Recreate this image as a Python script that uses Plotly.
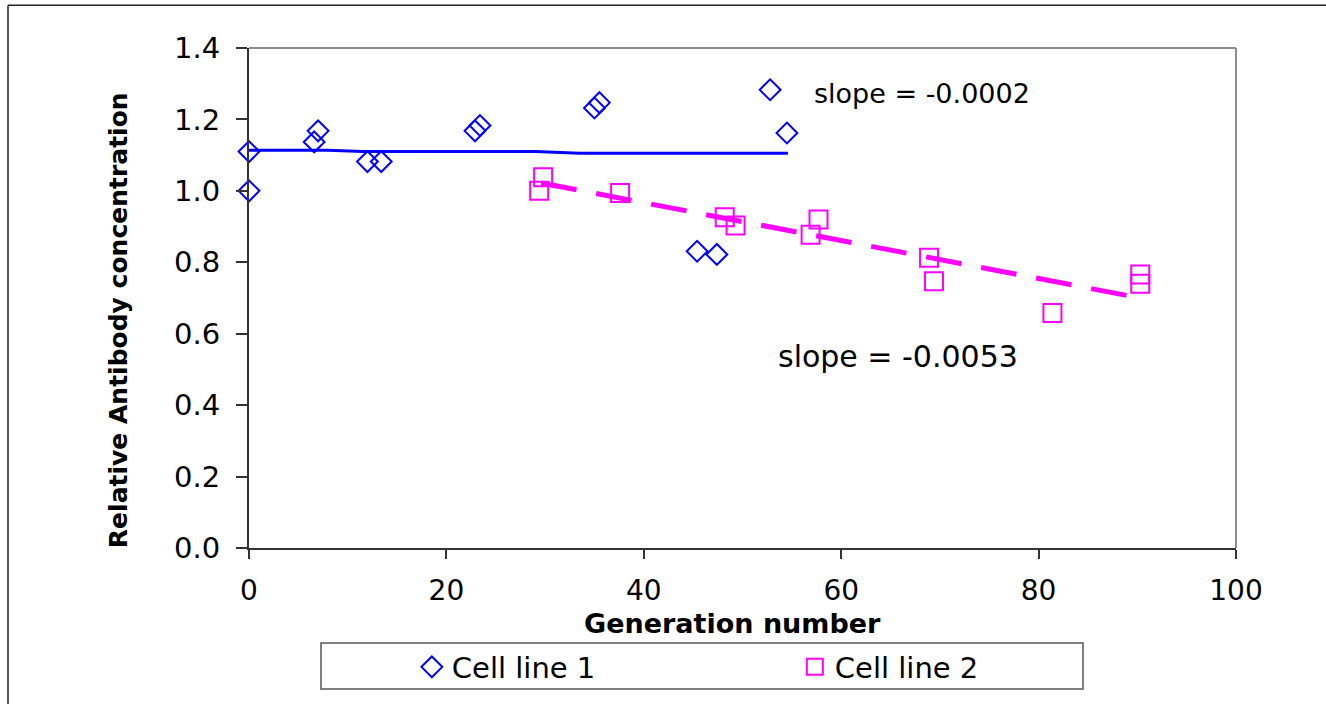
import plotly.graph_objects as go

# ---- data ----
cell1_x = [0, 0, 6.6, 7.0, 12.0, 13.4, 22.9, 23.4, 35.0, 35.5, 45.4, 47.4, 52.8, 54.5]
cell1_y = [1.110, 1.000, 1.137, 1.168, 1.082, 1.082, 1.168, 1.183, 1.232, 1.247, 0.831, 0.822, 1.283, 1.162]

fit1_x = [0, 8, 11.5, 29, 33.5, 54.6]
fit1_y = [1.114, 1.114, 1.110, 1.110, 1.105, 1.105]

cell2_x = [29.4, 29.8, 37.6, 48.2, 49.3, 56.9, 57.7, 68.9, 69.4, 81.4, 90.3, 90.3]
cell2_y = [1.000, 1.038, 0.994, 0.926, 0.903, 0.877, 0.920, 0.813, 0.747, 0.658, 0.766, 0.740]

fit2_x = [29.6, 90.1]
fit2_y = [1.022, 0.701]

x_ticks = [0, 20, 40, 60, 80, 100]
y_ticks = [0.0, 0.2, 0.4, 0.6, 0.8, 1.0, 1.2, 1.4]

slope1_label = "slope = -0.0002"
slope2_label = "slope = -0.0053"

BLUE = "#0000FF"
MAGENTA = "#FF00FF"
FONT = "DejaVu Sans"

fig = go.Figure()
fig.add_trace(go.Scatter(
    x=cell1_x, y=cell1_y, mode="markers", name="Cell line 1", cliponaxis=False,
    marker=dict(symbol="diamond-open", size=16, color=BLUE, line=dict(width=2, color=BLUE)),
))
fig.add_trace(go.Scatter(
    x=cell2_x, y=cell2_y, mode="markers", name="Cell line 2", cliponaxis=False,
    marker=dict(symbol="square-open", size=18, color=MAGENTA, line=dict(width=2, color=MAGENTA)),
))
fig.add_trace(go.Scatter(
    x=fit1_x, y=fit1_y, mode="lines", showlegend=False, cliponaxis=False,
    line=dict(color=BLUE, width=3), hoverinfo="skip",
))
fig.add_trace(go.Scatter(
    x=fit2_x, y=fit2_y, mode="lines", showlegend=False,
    line=dict(color=MAGENTA, width=5, dash="36px,20px"), hoverinfo="skip",
))

fig.update_layout(
    width=1326, height=704,
    margin=dict(l=249, r=90, t=48, b=154),
    paper_bgcolor="white", plot_bgcolor="white",
    font=dict(family=FONT, color="black"),
    showlegend=True,
    legend=dict(
        orientation="h", x=0.165, xanchor="left", y=-0.238, yanchor="middle",
        bgcolor="rgba(0,0,0,0)", borderwidth=0,
        entrywidth=338, entrywidthmode="pixels",
        font=dict(family=FONT, size=29, color="black"),
    ),
    xaxis=dict(
        range=[0, 100], tickvals=x_ticks, ticktext=[str(v) for v in x_ticks],
        showgrid=False, zeroline=False,
        showline=True, linecolor="#333333", linewidth=2,
        ticks="outside", ticklen=9, tickwidth=2, tickcolor="#333333",
        tickfont=dict(family=FONT, size=28, color="black"),
        ticklabelstandoff=7,
    ),
    yaxis=dict(
        range=[0, 1.4], tickvals=y_ticks, ticktext=[f"{v:.1f}" for v in y_ticks],
        showgrid=False, zeroline=False,
        showline=True, linecolor="#333333", linewidth=2,
        ticks="outside", ticklen=11, tickwidth=2, tickcolor="#333333",
        tickfont=dict(family=FONT, size=29, color="black"),
        ticklabelstandoff=10,
    ),
)

# axis titles
fig.add_annotation(
    text="<b>Generation number</b>", xref="paper", yref="paper",
    x=(732 - 249) / 987, y=(549.6 - 625) / 501.6, xanchor="center", yanchor="middle",
    showarrow=False, font=dict(family=FONT, size=27, color="black"),
)
fig.add_annotation(
    text="<b>Relative Antibody concentration</b>", xref="paper", yref="paper",
    x=(118 - 249) / 987, y=(549.6 - 321) / 501.6, xanchor="center", yanchor="middle",
    textangle=-90, showarrow=False, font=dict(family=FONT, size=25, color="black"),
)

# slope labels
fig.add_annotation(
    text=slope1_label, xref="x", yref="y", x=57.0, y=1.272,
    xanchor="left", yanchor="middle", showarrow=False,
    font=dict(family=FONT, size=27, color="black"),
)
fig.add_annotation(
    text=slope2_label, xref="x", yref="y", x=53.4, y=0.537,
    xanchor="left", yanchor="middle", showarrow=False,
    font=dict(family=FONT, size=30, color="black"),
)

# plot-area top/right border (grey)
fig.add_shape(type="line", xref="paper", yref="paper", x0=0, x1=1, y0=1, y1=1,
              line=dict(color="#8c8c8c", width=2))
fig.add_shape(type="line", xref="paper", yref="paper", x0=1, x1=1, y0=0, y1=1,
              line=dict(color="#8c8c8c", width=2))

# legend box
fig.add_shape(type="rect", xref="paper", yref="paper",
              x0=(321 - 249) / 987, x1=(1083 - 249) / 987,
              y0=(549.6 - 691) / 501.6, y1=(549.6 - 645) / 501.6,
              line=dict(color="#555555", width=1.5), fillcolor="rgba(0,0,0,0)")

# outer chart frame (top and left edges visible)
fig.add_shape(type="line", xref="paper", yref="paper",
              x0=(8 - 249) / 987, x1=(1330 - 249) / 987,
              y0=(549.6 - 5) / 501.6, y1=(549.6 - 5) / 501.6,
              line=dict(color="#222222", width=1.5))
fig.add_shape(type="line", xref="paper", yref="paper",
              x0=(8 - 249) / 987, x1=(8 - 249) / 987,
              y0=(549.6 - 5) / 501.6, y1=(549.6 - 710) / 501.6,
              line=dict(color="#222222", width=1.5))

fig.write_html("out.html")
